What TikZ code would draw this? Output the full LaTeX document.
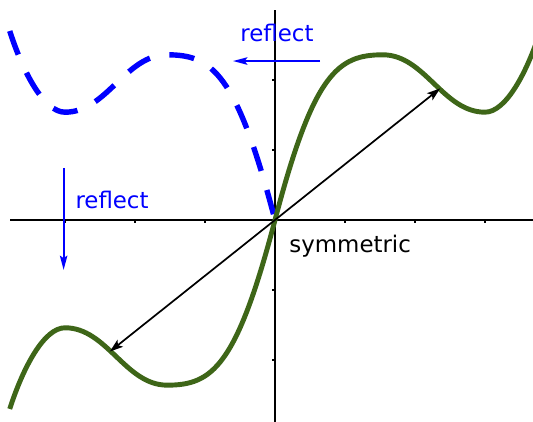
\documentclass[tikz,border=0pt]{standalone}
\usepackage{fontspec}
\setmainfont{DejaVu Sans}
\usetikzlibrary{arrows.meta}
\definecolor{curvegreen}{RGB}{62,102,24}
\definecolor{reflblue}{RGB}{0,0,255}
\begin{document}
\begin{tikzpicture}[x=1cm,y=1cm,
  axis/.style={line width=0.8pt, black},
  tickmark/.style={line width=0.8pt, black},
  greencurve/.style={line width=2pt, curvegreen},
  bluecurve/.style={line width=2.2pt, reflblue, dash pattern=on 10.2pt off 8.1pt},
  blackarrow/.style={line width=0.7pt, black, {Stealth[length=5.4pt,width=3.6pt,inset=1.2pt]}-{Stealth[length=5.4pt,width=3.6pt,inset=1.2pt]}},
  bluearrow/.style={line width=0.85pt, reflblue, -{Stealth[length=5.8pt,width=3pt,inset=1pt]}},
  lbl/.style={inner sep=0pt, anchor=base west, font=\fontsize{9.3}{11}\selectfont}
]
\useasboundingbox (-3.929,-2.886) rectangle (3.686,3.143);
\clip (-3.929,-2.886) rectangle (3.686,3.143);

\coordinate (O) at (0,0);
\coordinate (XL) at (-3.786,0);
\coordinate (XR) at (3.8,0);
\coordinate (YT) at (0,3.0);
\coordinate (YB) at (0,-3.0);
\draw[axis] (XL) -- (XR);
\draw[axis] (YB) -- (YT);
\foreach \t in {-3,-2,-1,1,2,3} \draw[tickmark] (\t,0) -- (\t,-0.045);
\foreach \t in {-2,-1,1,2} \draw[tickmark] (0,\t) -- (-0.045,\t);

% reflected (dashed) curve
\draw[bluecurve] (-3.79,2.7) .. controls (-3.6,2.11) and (-3.3,1.54) .. (-3.0,1.54)
  .. controls (-2.4,1.54) and (-2.14,2.36) .. (-1.54,2.36)
  .. controls (-0.9,2.36) and (-0.55,2.1) .. (O);

% odd (symmetric) curve
\draw[greencurve] (-3.79,-2.7) .. controls (-3.6,-2.11) and (-3.3,-1.54) .. (-3.0,-1.54)
  .. controls (-2.4,-1.54) and (-2.14,-2.36) .. (-1.54,-2.36)
  .. controls (-0.9,-2.36) and (-0.55,-2.1) .. (O)
  .. controls (0.55,2.1) and (0.9,2.36) .. (1.54,2.36)
  .. controls (2.14,2.36) and (2.4,1.54) .. (3.0,1.54)
  .. controls (3.3,1.54) and (3.6,2.11) .. (3.79,2.7);

\coordinate (P) at (2.36,1.88);
\coordinate (Q) at (-2.36,-1.88);
\draw[blackarrow] (Q) -- (P);

\coordinate (HA) at (0.643,2.271);
\coordinate (HB) at (-0.6,2.271);
\draw[bluearrow] (HA) -- (HB);
\coordinate (VA) at (-3.02,0.743);
\coordinate (VB) at (-3.02,-0.714);
\draw[bluearrow] (VA) -- (VB);

\node[lbl, text=reflblue] (r1) at (-0.5,2.543) {reflect};
\node[lbl, text=reflblue] (r2) at (-2.857,0.171) {reflect};
\node[lbl, text=black] (sym) at (0.2,-0.471) {symmetric};
\end{tikzpicture}
\end{document}
